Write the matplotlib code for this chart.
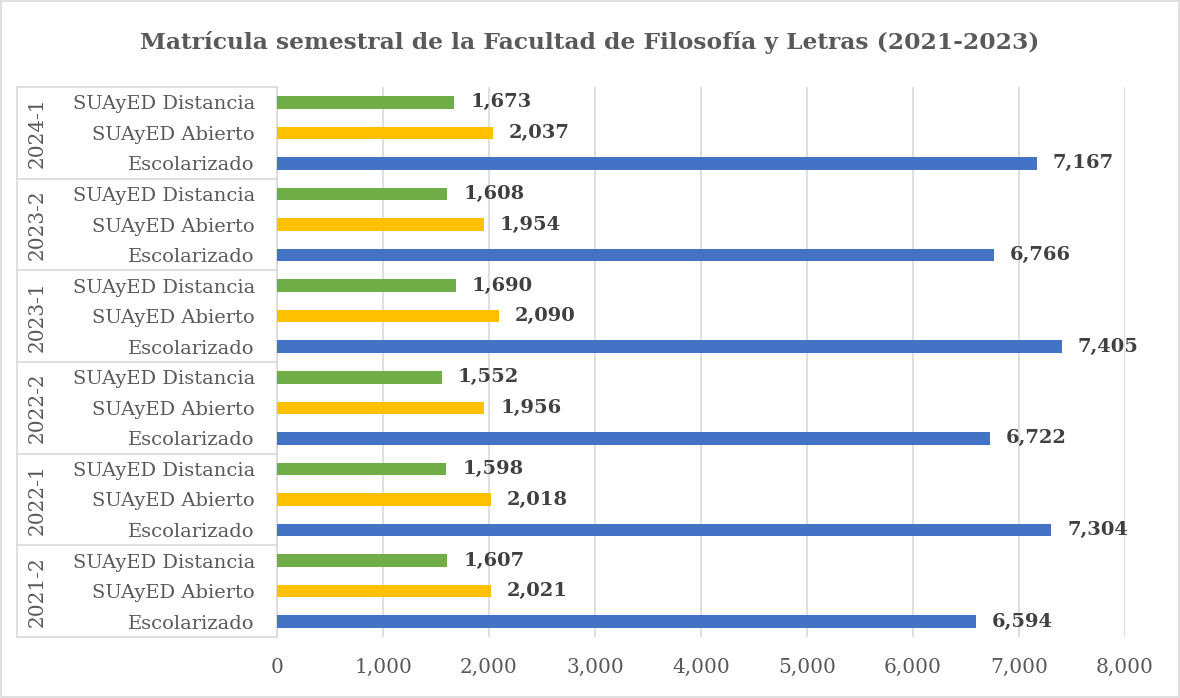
import numpy as np
import matplotlib.pyplot as plt
from matplotlib.patches import Rectangle
import matplotlib.transforms as mtransforms

plt.rcParams['font.family'] = ['DejaVu Serif']

semesters = ['2021-2', '2022-1', '2022-2', '2023-1', '2023-2', '2024-1']
programs = ['Escolarizado', 'SUAyED Abierto', 'SUAyED Distancia']
escolarizado = [6594, 7304, 6722, 7405, 6766, 7167]
abierto = [2021, 2018, 1956, 2090, 1954, 2037]
distancia = [1607, 1598, 1552, 1690, 1608, 1673]

colors = ['#4472C4', '#FFC000', '#70AD47']
W, H = 1180, 698

fig = plt.figure(figsize=(W / 100, H / 100), dpi=100)
ax = fig.add_axes([277 / W, 61 / H, 848 / W, 550 / H])

series = [escolarizado, abierto, distancia]
ypos, labels = [], []
for g, sem in enumerate(semesters):
    for k, vals in enumerate(series):
        y = g * 3 + k
        v = vals[g]
        ax.barh(y, v, height=0.41, color=colors[k], zorder=3)
        ax.text(v + 150, y, f'{v:,}', va='center', ha='left',
                fontsize=14, fontweight='bold', color='#404040')
        ypos.append(y)
        labels.append(programs[k])

ax.set_ylim(-0.5, 17.5)
ax.set_xlim(0, 8000)
ax.set_yticks(ypos)
ax.set_yticklabels(labels, fontsize=14, color='#595959')
ax.set_xticks(np.arange(0, 8001, 1000))
ax.set_xticklabels([f'{t:,}' for t in range(0, 8001, 1000)], fontsize=14.5, color='#595959')
ax.tick_params(axis='both', length=0)
ax.tick_params(axis='y', pad=16)
ax.tick_params(axis='x', pad=15)
ax.grid(axis='x', color='#D9D9D9', linewidth=1.2, zorder=0)
for s in ['top', 'right', 'bottom']:
    ax.spines[s].set_visible(False)
ax.spines['left'].set_color('#D9D9D9')
ax.spines['left'].set_linewidth(1.2)

# multi-level category axis
trans = mtransforms.blended_transform_factory(ax.transAxes, ax.transData)
xl = (17 - 277) / 848
for g in range(len(semesters) + 1):
    yb = g * 3 - 0.5
    ax.plot([xl, 0], [yb, yb], transform=trans, color='#D9D9D9', lw=1.2, clip_on=False)
ax.plot([xl, xl], [-0.5, 17.5], transform=trans, color='#D9D9D9', lw=1.2, clip_on=False)
for g, sem in enumerate(semesters):
    ax.text((37 - 277) / 848, g * 3 + 1, sem, transform=trans, rotation=90,
            ha='center', va='center', fontsize=14.5, color='#595959')

fig.text(0.5, 1 - 42 / H, 'Matrícula semestral de la Facultad de Filosofía y Letras (2021-2023)',
         ha='center', va='center', fontsize=16.8, fontweight='bold', color='#595959')

fig.patches.append(Rectangle((1 / W, 1 / H), 1 - 2 / W, 1 - 2 / H, transform=fig.transFigure,
                             fill=False, edgecolor='#D9D9D9', lw=1.2))

fig.savefig('out.png', dpi=100, facecolor='white')
